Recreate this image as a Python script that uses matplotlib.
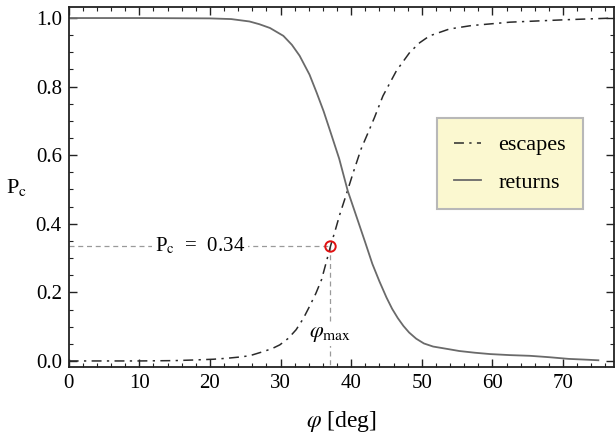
import matplotlib
matplotlib.use("Agg")
import matplotlib.pyplot as plt
from matplotlib.ticker import MultipleLocator

plt.rcParams['font.family'] = ['Liberation Serif', 'DejaVu Serif']
plt.rcParams['mathtext.fontset'] = 'stix'

# data
esc_x = [0, 10, 15, 18, 20.5, 22.5, 24, 25.6, 27.5, 28.8, 29.9, 31.1, 32.2, 33.2, 34.1, 35.0, 35.8, 36.5, 37.06,
         37.8, 38.4, 39.3, 40.3, 41.4, 42.4, 43.3, 44.5, 46.4, 48.3, 49.7, 51.1, 53.9, 57, 62.5, 70.3, 77.2]
esc_y = [0.0, 0.0, 0.001, 0.003, 0.005, 0.008, 0.011, 0.015, 0.027, 0.036, 0.047, 0.066, 0.091, 0.123, 0.159, 0.197,
         0.237, 0.29, 0.334, 0.385, 0.428, 0.485, 0.55, 0.618, 0.666, 0.71, 0.773, 0.846, 0.9, 0.928, 0.948, 0.968, 0.978, 0.988, 0.995, 1.0]

ret_x = [0, 10, 20, 23, 25.6, 27, 28.5, 30.4, 31.6, 32.7, 34.1, 35.1, 36.1, 37.0, 38.3, 39.5, 40.8, 42.0, 43.0, 44.0,
         45.0, 45.8, 46.6, 47.4, 48.2, 49.2, 50.3, 51.6, 53.9, 55.3, 57.5, 59.7, 62.5, 65.3, 68, 70.8, 73, 75]
ret_y = [1.0, 1.0, 0.999, 0.997, 0.99, 0.982, 0.971, 0.948, 0.922, 0.89, 0.835, 0.783, 0.728, 0.672, 0.59, 0.497, 0.418,
         0.345, 0.283, 0.232, 0.185, 0.152, 0.125, 0.102, 0.083, 0.065, 0.051, 0.042, 0.034, 0.029, 0.024, 0.02, 0.017, 0.015, 0.011, 0.006, 0.004, 0.002]

phi_max = 37.06
pc_val = 0.334

fig = plt.figure(figsize=(6.15, 4.36), dpi=100)
ax = fig.add_axes([0.1117, 0.159, 0.8865, 0.824])

ax.plot(esc_x, esc_y, color='#2a2a2a', lw=1.1, ls=(0, (6.5, 3.5, 1.5, 3.5)), label='escapes')
ax.plot(ret_x, ret_y, color='#6a6a6a', lw=1.3, ls='-', label='returns')

ax.plot([0, phi_max], [pc_val, pc_val], color='#9a9a9a', lw=0.9, ls=(0, (4, 3)), zorder=1)
ax.plot([phi_max, phi_max], [pc_val, -0.02], color='#9a9a9a', lw=0.9, ls=(0, (4, 3)), zorder=1)
ax.plot([phi_max], [pc_val], 'o', mfc='none', mec='#e01010', mew=1.4, ms=7.5, zorder=5)

ax.text(18.6, pc_val, r'P$_\mathrm{c}$  =  0.34', fontsize=15, ha='center', va='center',
        bbox=dict(facecolor='white', edgecolor='none', pad=2), zorder=3)
ax.text(phi_max, 0.076, r'$\varphi_{\mathrm{max}}$', fontsize=16, ha='center', va='center',
        bbox=dict(facecolor='white', edgecolor='none', pad=1), zorder=3)

ax.set_xlim(0, 77.2)
ax.set_ylim(-0.0167, 1.031)
ax.xaxis.set_major_locator(MultipleLocator(10))
ax.xaxis.set_minor_locator(MultipleLocator(2))
ax.yaxis.set_minor_locator(MultipleLocator(0.05))
ax.set_yticks([0, 0.2, 0.4, 0.6, 0.8, 1.0])
ax.set_yticklabels(['0.0', '0.2', '0.4', '0.6', '0.8', '1.0'])
ax.tick_params(which='both', direction='in', top=True, right=True, labelsize=15, pad=5, color='#222')
ax.tick_params(which='major', length=6, width=1.0)
ax.tick_params(which='minor', length=3, width=0.8)
for s in ax.spines.values():
    s.set_linewidth(1.3)
    s.set_color('#222')

ax.set_xlabel(r'$\varphi$ [deg]', fontsize=17, labelpad=12)
ax.set_ylabel(r'P$_\mathrm{c}$', fontsize=16, rotation=0, labelpad=14, va='center')

leg = ax.legend(loc='upper left', bbox_to_anchor=(0.711, 0.729), bbox_transform=fig.transFigure,
                fontsize=16, frameon=True, fancybox=False, handlelength=1.2, handletextpad=0.8,
                borderpad=0.75, labelspacing=0.75, borderaxespad=0)
leg.get_frame().set_facecolor('#fbf8d0')
leg.get_frame().set_edgecolor('#b8b8b8')
leg.get_frame().set_linewidth(1.5)
leg.get_frame().set_alpha(1)

fig.savefig('out.png', dpi=100)
